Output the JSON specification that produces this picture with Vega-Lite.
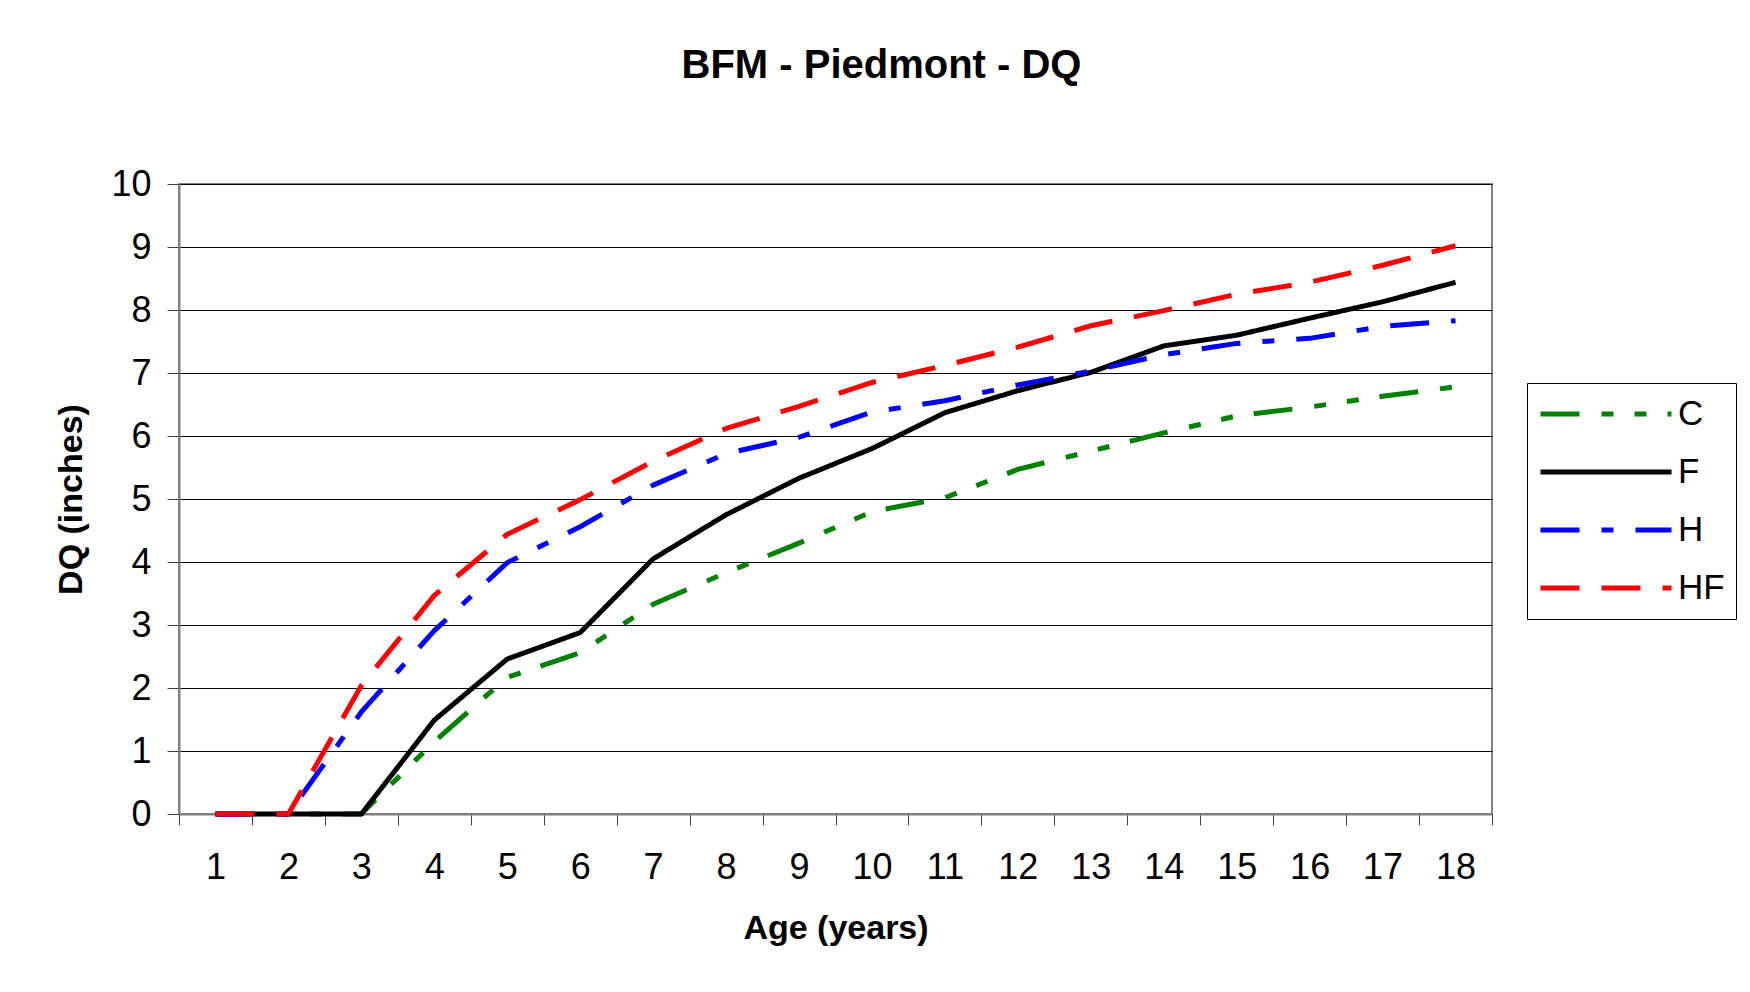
{
  "$schema": "https://vega.github.io/schema/vega-lite/v6.json",
  "autosize": {"type": "none"},
  "width": 1313,
  "height": 630,
  "padding": {"left": 179, "top": 184, "right": 258, "bottom": 178},
  "background": "white",
  "title": {
    "text": "BFM - Piedmont - DQ",
    "fontSize": 40,
    "font": "Liberation Sans",
    "fontWeight": "bold",
    "color": "black",
    "anchor": "middle",
    "dx": 46,
    "offset": 80
  },
  "config": {
    "font": "Liberation Sans",
    "view": {"stroke": "#808080", "strokeWidth": 2}
  },
  "data": {
    "values": [
      {"age": 1, "series": "C", "v": 0},
      {"age": 2, "series": "C", "v": 0},
      {"age": 3, "series": "C", "v": 0},
      {"age": 4, "series": "C", "v": 1.15},
      {"age": 5, "series": "C", "v": 2.17},
      {"age": 6, "series": "C", "v": 2.56},
      {"age": 7, "series": "C", "v": 3.33},
      {"age": 8, "series": "C", "v": 3.83},
      {"age": 9, "series": "C", "v": 4.3},
      {"age": 10, "series": "C", "v": 4.8},
      {"age": 11, "series": "C", "v": 5.02},
      {"age": 12, "series": "C", "v": 5.47},
      {"age": 13, "series": "C", "v": 5.76},
      {"age": 14, "series": "C", "v": 6.05},
      {"age": 15, "series": "C", "v": 6.32},
      {"age": 16, "series": "C", "v": 6.46},
      {"age": 17, "series": "C", "v": 6.63},
      {"age": 18, "series": "C", "v": 6.78},
      {"age": 1, "series": "F", "v": 0},
      {"age": 2, "series": "F", "v": 0},
      {"age": 3, "series": "F", "v": 0},
      {"age": 4, "series": "F", "v": 1.49},
      {"age": 5, "series": "F", "v": 2.46},
      {"age": 6, "series": "F", "v": 2.88},
      {"age": 7, "series": "F", "v": 4.05},
      {"age": 8, "series": "F", "v": 4.75},
      {"age": 9, "series": "F", "v": 5.33},
      {"age": 10, "series": "F", "v": 5.8},
      {"age": 11, "series": "F", "v": 6.37},
      {"age": 12, "series": "F", "v": 6.72},
      {"age": 13, "series": "F", "v": 7.01},
      {"age": 14, "series": "F", "v": 7.43},
      {"age": 15, "series": "F", "v": 7.6},
      {"age": 16, "series": "F", "v": 7.87},
      {"age": 17, "series": "F", "v": 8.13},
      {"age": 18, "series": "F", "v": 8.44},
      {"age": 1, "series": "H", "v": 0},
      {"age": 2, "series": "H", "v": 0},
      {"age": 3, "series": "H", "v": 1.62},
      {"age": 4, "series": "H", "v": 2.91},
      {"age": 5, "series": "H", "v": 3.99},
      {"age": 6, "series": "H", "v": 4.56},
      {"age": 7, "series": "H", "v": 5.22},
      {"age": 8, "series": "H", "v": 5.72},
      {"age": 9, "series": "H", "v": 5.98},
      {"age": 10, "series": "H", "v": 6.38},
      {"age": 11, "series": "H", "v": 6.56},
      {"age": 12, "series": "H", "v": 6.81},
      {"age": 13, "series": "H", "v": 7.03},
      {"age": 14, "series": "H", "v": 7.29},
      {"age": 15, "series": "H", "v": 7.47},
      {"age": 16, "series": "H", "v": 7.55},
      {"age": 17, "series": "H", "v": 7.74},
      {"age": 18, "series": "H", "v": 7.83},
      {"age": 1, "series": "HF", "v": 0},
      {"age": 2, "series": "HF", "v": 0},
      {"age": 3, "series": "HF", "v": 2.04},
      {"age": 4, "series": "HF", "v": 3.47},
      {"age": 5, "series": "HF", "v": 4.44},
      {"age": 6, "series": "HF", "v": 4.99},
      {"age": 7, "series": "HF", "v": 5.6},
      {"age": 8, "series": "HF", "v": 6.12},
      {"age": 9, "series": "HF", "v": 6.47},
      {"age": 10, "series": "HF", "v": 6.85},
      {"age": 11, "series": "HF", "v": 7.12},
      {"age": 12, "series": "HF", "v": 7.41},
      {"age": 13, "series": "HF", "v": 7.75},
      {"age": 14, "series": "HF", "v": 7.99},
      {"age": 15, "series": "HF", "v": 8.25},
      {"age": 16, "series": "HF", "v": 8.44},
      {"age": 17, "series": "HF", "v": 8.71},
      {"age": 18, "series": "HF", "v": 9.02}
    ]
  },
  "mark": {"type": "line", "strokeWidth": 5, "strokeCap": "butt", "strokeJoin": "round"},
  "encoding": {
    "x": {
      "field": "age",
      "type": "ordinal",
      "scale": {"type": "band", "paddingInner": 0, "paddingOuter": 0},
      "bandPosition": 0.5,
      "axis": {
        "title": "Age (years)",
        "titleFontSize": 34,
        "titleFontWeight": "bold",
        "titleColor": "black",
        "titlePadding": 26,
        "labelAngle": 0,
        "labelFontSize": 36,
        "labelColor": "black",
        "labelPadding": 25,
        "tickBand": "extent",
        "tickSize": 11,
        "tickColor": "#404040",
        "domainColor": "#808080",
        "domainWidth": 2,
        "grid": false
      }
    },
    "y": {
      "field": "v",
      "type": "quantitative",
      "scale": {"domain": [0, 10], "nice": false},
      "axis": {
        "title": "DQ (inches)",
        "titleFontSize": 34,
        "titleFontWeight": "bold",
        "titleColor": "black",
        "titlePadding": 22,
        "values": [0, 1, 2, 3, 4, 5, 6, 7, 8, 9, 10],
        "labelFontSize": 36,
        "labelColor": "black",
        "labelPadding": 16,
        "tickSize": 12,
        "tickColor": "#404040",
        "domainColor": "#808080",
        "domainWidth": 2,
        "grid": true,
        "gridColor": "black",
        "gridWidth": 1
      }
    },
    "color": {
      "field": "series",
      "type": "nominal",
      "scale": {"domain": ["C", "F", "H", "HF"], "range": ["#008000", "#000000", "#0000FF", "#FF0000"]},
      "legend": {
        "title": null,
        "orient": "none",
        "legendX": 1348,
        "legendY": 199,
        "strokeColor": "black",
        "fillColor": "white",
        "padding": 11,
        "symbolType": "stroke",
        "symbolSize": 17161,
        "symbolStrokeWidth": 5,
        "labelFontSize": 35,
        "labelColor": "black",
        "labelOffset": 4,
        "clipHeight": 40,
        "rowPadding": 18
      }
    },
    "strokeDash": {
      "field": "series",
      "type": "nominal",
      "scale": {"domain": ["C", "F", "H", "HF"], "range": [[39, 22, 12, 21, 12, 21], [1, 0], [39, 22, 12, 22], [39, 22]]},
      "legend": {
        "title": null,
        "orient": "none",
        "legendX": 1348,
        "legendY": 199,
        "strokeColor": "black",
        "fillColor": "white",
        "padding": 11,
        "symbolType": "stroke",
        "symbolSize": 17161,
        "symbolStrokeWidth": 5,
        "labelFontSize": 35,
        "labelColor": "black",
        "labelOffset": 4,
        "clipHeight": 40,
        "rowPadding": 18
      }
    }
  }
}
